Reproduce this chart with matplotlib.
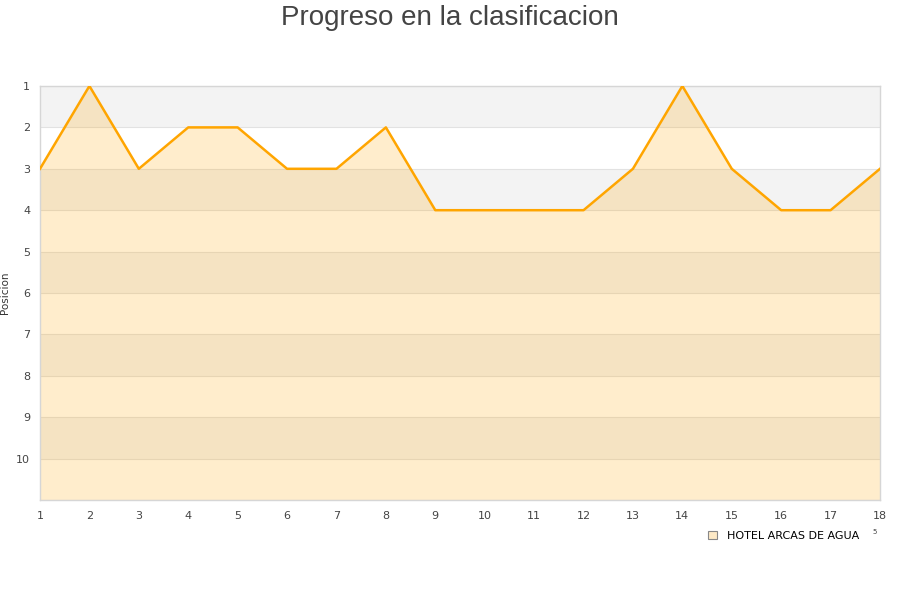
import matplotlib.pyplot as plt
from matplotlib.patches import Patch

# data
jornadas = list(range(1, 19))
posicion = [3, 1, 3, 2, 2, 3, 3, 2, 4, 4, 4, 4, 3, 1, 3, 4, 4, 3]
equipo = "HOTEL ARCAS DE AGUA"
y_ticks = list(range(1, 11))

fig = plt.figure(figsize=(9, 6), dpi=100)
ax = fig.add_axes([40 / 900, 1 - 500 / 600, 840 / 900, 414 / 600])

# alternating bands
for i in range(1, 11, 2):
    ax.axhspan(i, i + 1, color='#f3f3f3', zorder=0, lw=0)
for i in range(1, 12):
    ax.axhline(i, color='#e2e2e2', lw=0.8, zorder=1)

ax.fill_between(jornadas, posicion, 11, color='#ffa500', alpha=0.2, lw=0, zorder=2)
ax.plot(jornadas, posicion, color='#ffa500', lw=1.8, zorder=3)

ax.set_xlim(1, 18)
ax.set_ylim(11, 1)
ax.set_xticks(jornadas)
ax.set_yticks(y_ticks)
ax.tick_params(axis='both', length=0, labelsize=8, colors='#444444')
ax.tick_params(axis='x', pad=8)
ax.tick_params(axis='y', pad=7)
for s in ax.spines.values():
    s.set_color('#d6d6d6')
    s.set_linewidth(1)
ax.set_ylabel("Posicion", fontsize=7.5, color='#333333')
ax.yaxis.set_label_coords(-30 / 840, 0.5)

fig.suptitle("Progreso en la clasificacion", fontsize=20, color='#444444',
             family='Liberation Sans', y=0.992, va='top')

handle = Patch(facecolor='#fde9c6', edgecolor='#888888', lw=0.8)
fig.legend([handle], [equipo], loc='center left', bbox_to_anchor=(0.776, 1 - 536 / 600),
           frameon=False, fontsize=8, handlelength=0.8, handleheight=0.8, handletextpad=0.9)
fig.text(875 / 900, 1 - 532 / 600, "5", fontsize=5, color='#444444', ha='center', va='center')

fig.savefig("out.png", dpi=100)
